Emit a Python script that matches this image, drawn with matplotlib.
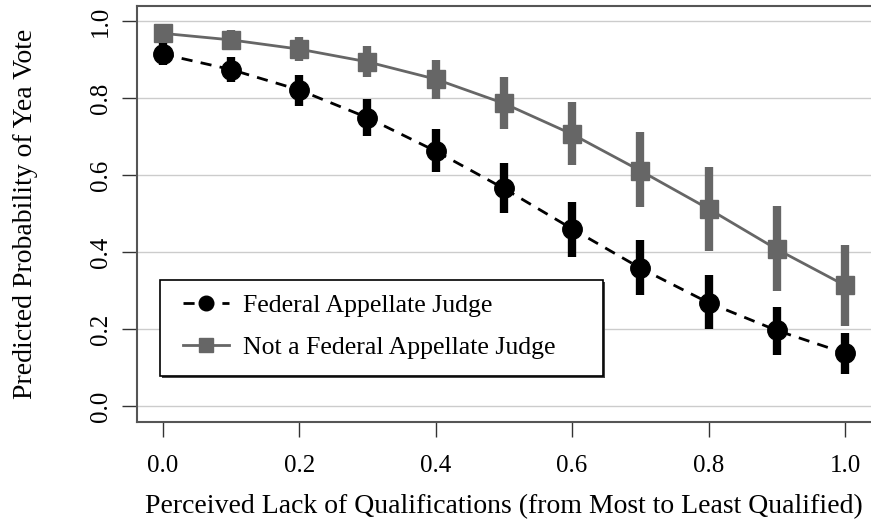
import numpy as np
import matplotlib
matplotlib.use("Agg")
import matplotlib.pyplot as plt
from matplotlib.patches import Rectangle

plt.rcParams['font.family'] = ['Liberation Serif', 'DejaVu Serif']

# perceived lack of qualifications
qual = [0.0, 0.1, 0.2, 0.3, 0.4, 0.5, 0.6, 0.7, 0.8, 0.9, 1.0]

# federal appellate judge: prediction and 95% interval
judge = [0.914, 0.874, 0.821, 0.749, 0.662, 0.565, 0.460, 0.358, 0.268, 0.196, 0.137]
judge_lo = [0.886, 0.842, 0.779, 0.701, 0.607, 0.500, 0.388, 0.288, 0.199, 0.133, 0.084]
judge_hi = [0.943, 0.907, 0.860, 0.797, 0.719, 0.630, 0.531, 0.430, 0.339, 0.258, 0.190]

# not a federal appellate judge
other = [0.968, 0.951, 0.927, 0.894, 0.849, 0.786, 0.706, 0.611, 0.512, 0.407, 0.313]
other_lo = [0.955, 0.929, 0.896, 0.854, 0.797, 0.719, 0.625, 0.518, 0.403, 0.299, 0.208]
other_hi = [0.978, 0.977, 0.959, 0.935, 0.900, 0.854, 0.789, 0.711, 0.620, 0.519, 0.418]

y_ticks = [0.0, 0.2, 0.4, 0.6, 0.8, 1.0]
x_ticks = [0.0, 0.2, 0.4, 0.6, 0.8, 1.0]

gray = '#666666'

fig = plt.figure(figsize=(8.71, 5.23), dpi=100)
ax = fig.add_axes([0.157, 0.193, 0.843, 0.7955])

for y in y_ticks:
    ax.axhline(y, color='#cccccc', lw=1.0, zorder=0)

ax.vlines(qual, other_lo, other_hi, color=gray, lw=6, zorder=2)
ax.plot(qual, other, color=gray, lw=2, marker='s', ms=13, mec=gray, mfc=gray,
        zorder=3, label='Not a Federal Appellate Judge')

ax.vlines(qual, judge_lo, judge_hi, color='black', lw=6, zorder=4)
ax.plot(qual, judge, color='black', lw=2, ls=(0, (4, 3)), marker='o', ms=14,
        zorder=5, label='Federal Appellate Judge')

ax.set_xlim(-0.038, 1.038)
ax.set_ylim(-0.042, 1.039)
ax.set_xticks(x_ticks)
ax.set_xticklabels(['%.1f' % v for v in x_ticks])
ax.set_yticks(y_ticks)
ax.set_yticklabels(['%.1f' % v for v in y_ticks], rotation=90, va='center')
ax.tick_params(axis='both', labelsize=18, length=11, width=1, color='#333333',
               pad=13)
ax.tick_params(axis='y', pad=7)

for side in ['left', 'bottom', 'top']:
    ax.spines[side].set_color('#555555')
    ax.spines[side].set_linewidth(1.5)
ax.spines['right'].set_visible(False)

ax.set_xlabel('Perceived Lack of Qualifications (from Most to Least Qualified)',
              fontsize=20, labelpad=12)
ax.set_ylabel('Predicted Probability of Yea Vote', fontsize=20, labelpad=37)

# legend box (drawn by hand, with extra room on the right like the original)
ax.add_patch(Rectangle((0.034, 0.105), 0.604, 0.231, transform=ax.transAxes,
                       facecolor='#444444', edgecolor='none', zorder=6))
ax.add_patch(Rectangle((0.031, 0.1106), 0.604, 0.2304, transform=ax.transAxes,
                       facecolor='white', edgecolor='black', lw=1.2, zorder=7))

handles, labels = ax.get_legend_handles_labels()
leg = ax.legend(handles[::-1], labels[::-1], loc='center left',
                bbox_to_anchor=(0.0627, 0.2296), borderaxespad=0, borderpad=0,
                fontsize=18.5, frameon=False, markerscale=0.75,
                handlelength=1.8, labelspacing=0.73, handletextpad=0.55)
leg.set_zorder(8)

fig.savefig('out.png', dpi=100)
